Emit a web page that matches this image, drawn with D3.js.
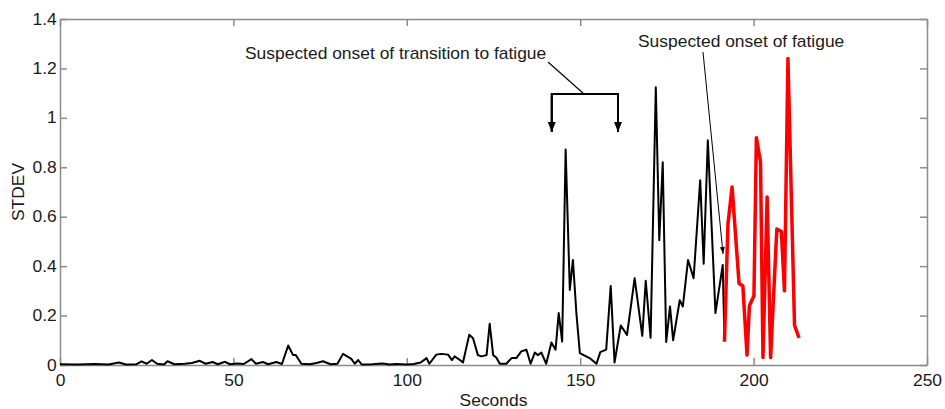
<!DOCTYPE html>
<html>
<head>
<meta charset="utf-8">
<title>STDEV over time</title>
<script src="https://d3js.org/d3.v7.min.js"></script>
<style>
  body, html { margin: 0; padding: 0; background: #fff; }
  svg { display: block; }
  .axis text { font-family: "Liberation Sans", Arial, sans-serif; font-size: 16px; fill: #1a1a1a; }
  .axis path, .axis line { stroke: #8c8c8c; stroke-width: 1.5; }
  .note, .label { font-family: "Liberation Sans", Arial, sans-serif; font-size: 16px; fill: #1a1a1a; }
</style>
</head>
<body>
<svg width="945" height="409"></svg>
<script>
// black trace (before fatigue) - vertices
const blackSec = [0, 5, 10, 14, 17, 19, 22, 23.5, 25, 26.5, 28, 30, 31, 33, 36, 38, 40.3, 42, 44, 45.5,
  47.6, 49, 51, 53, 55.2, 56.5, 58.5, 60, 62.4, 64, 65.8, 67.2, 68, 69.6, 72, 74, 75.8, 78, 80, 81.6,
  84, 85, 86, 87, 90, 93, 95, 97, 100, 102, 104, 105.7, 106.5, 108.5, 110, 111.9, 113, 113.8, 115.3, 116.2,
  118, 119.1, 120.5, 121.5, 123, 123.9, 124.9, 125.8, 126.8, 128.7, 130.2, 131.6, 133, 134.5, 135.7, 136.9,
  137.8, 138.8, 140.2, 141.7, 142.9, 143.8, 144.8, 145.8, 147, 147.9, 148.9, 149.9, 151, 152.7, 154.7, 155.8,
  157.5, 158.8, 159.9, 161.7, 163.5, 165.7, 167.9, 168.9, 170.3, 171.8, 172.8, 173.8, 174.8, 175.9, 176.8,
  178.7, 179.6, 181.1, 182.7, 184.6, 185.6, 186.8, 189, 191.1, 191.6];
const blackVal = [0.003, 0.002, 0.004, 0.002, 0.01, 0.002, 0.003, 0.015, 0.005, 0.02, 0.005, 0.002, 0.015, 0.003, 0.005, 0.008, 0.017, 0.005, 0.012, 0.003,
  0.013, 0.003, 0.006, 0.004, 0.024, 0.005, 0.012, 0.003, 0.012, 0.004, 0.079, 0.04, 0.04, 0.005, 0.003, 0.008, 0.015, 0.003, 0.005, 0.045,
  0.025, 0.005, 0.02, 0.002, 0.003, 0.006, 0.002, 0.004, 0.002, 0.004, 0.01, 0.028, 0.005, 0.042, 0.045, 0.042, 0.02, 0.035, 0.02, 0.01,
  0.122, 0.108, 0.04, 0.035, 0.04, 0.167, 0.04, 0.03, 0.005, 0.005, 0.028, 0.028, 0.055, 0.062, 0.005, 0.05,
  0.04, 0.05, 0.005, 0.091, 0.062, 0.21, 0.095, 0.872, 0.304, 0.425, 0.21, 0.048, 0.04, 0.028, 0.005, 0.052,
  0.062, 0.32, 0.01, 0.16, 0.122, 0.351, 0.118, 0.341, 0.11, 1.124, 0.505, 0.82, 0.093, 0.237, 0.1,
  0.262, 0.237, 0.425, 0.351, 0.748, 0.41, 0.909, 0.21, 0.405, 0.095];

// red trace (fatigue)
const redSec = [191.6, 192.6, 193.8, 195.8, 196.9, 198.1, 198.8, 200.1, 200.8, 202, 202.7, 203.9, 204.9, 206.7, 208, 208.9, 209.9, 211.8, 213.1];
const redVal = [0.095, 0.57, 0.72, 0.33, 0.32, 0.04, 0.24, 0.28, 0.92, 0.82, 0.03, 0.68, 0.03, 0.55, 0.54, 0.30, 1.24, 0.16, 0.11];

const xTicks = [0, 50, 100, 150, 200, 250];
const yTicks = [0, 0.2, 0.4, 0.6, 0.8, 1, 1.2, 1.4];

// annotations (data coords)
const bracketNote = "Suspected onset of transition to fatigue";
const bracketEnds = [141.8, 160.9];
const fatigueNote = "Suspected onset of fatigue";

const svg = d3.select("svg");
const x = d3.scaleLinear().domain([0, 250]).range([60, 927]);
const y = d3.scaleLinear().domain([0, 1.4]).range([365, 19]);

// text in the original runs a bit wider than Liberation Sans
const wide = "scale(1.09,1)";

const fmt = d => d === 0 ? "0" : (d === 1 ? "1" : d3.format(".1f")(d));

// box + inward ticks
svg.append("g").attr("class", "axis").attr("transform", "translate(0,365)")
  .call(d3.axisBottom(x).tickValues(xTicks).tickSizeInner(-7).tickSizeOuter(0).tickPadding(10))
  .selectAll("text").attr("transform", wide);
svg.append("g").attr("class", "axis").attr("transform", "translate(0,19)")
  .call(d3.axisTop(x).tickValues(xTicks).tickSizeInner(-7).tickSizeOuter(0).tickFormat(""));
svg.append("g").attr("class", "axis").attr("transform", "translate(60,0)")
  .call(d3.axisLeft(y).tickValues(yTicks).tickSizeInner(-7).tickSizeOuter(0).tickPadding(3).tickFormat(fmt))
  .selectAll("text").attr("transform", wide);
svg.append("g").attr("class", "axis").attr("transform", "translate(927,0)")
  .call(d3.axisRight(y).tickValues(yTicks).tickSizeInner(-7).tickSizeOuter(0).tickFormat(""));

const line = d3.line().x(d => x(d[0])).y(d => y(d[1]));

svg.append("path")
  .datum(d3.zip(blackSec, blackVal))
  .attr("d", line)
  .attr("fill", "none").attr("stroke", "#000").attr("stroke-width", 2).attr("stroke-linejoin", "round");

svg.append("path")
  .datum(d3.zip(redSec, redVal))
  .attr("d", line)
  .attr("fill", "none").attr("stroke", "#ff0000").attr("stroke-width", 3.5).attr("stroke-linejoin", "round");

// axis titles
svg.append("text").attr("class", "label")
  .attr("transform", `translate(${x(125)},406) ${wide}`).attr("text-anchor", "middle").text("Seconds");
svg.append("text").attr("class", "label")
  .attr("transform", `translate(24,${y(0.7)}) rotate(-90) ${wide}`).attr("text-anchor", "middle").text("STDEV");

// arrowheads
const defs = svg.append("defs");
defs.append("marker").attr("id", "head").attr("viewBox", "0 0 10 10")
  .attr("refX", 10).attr("refY", 5).attr("markerWidth", 10).attr("markerHeight", 10)
  .attr("markerUnits", "userSpaceOnUse").attr("orient", "auto")
  .append("path").attr("d", "M0,1 L10,5 L0,9 Z").attr("fill", "#000");
defs.append("marker").attr("id", "thin").attr("viewBox", "0 0 10 10")
  .attr("refX", 10).attr("refY", 5).attr("markerWidth", 10).attr("markerHeight", 7)
  .attr("markerUnits", "userSpaceOnUse").attr("orient", "auto")
  .append("path").attr("d", "M0,1.5 L10,5 L0,8.5 Z").attr("fill", "#000");

// bracket annotation
svg.append("text").attr("class", "note").attr("transform", `translate(245,59) ${wide}`).text(bracketNote);
const bx0 = x(bracketEnds[0]), bx1 = x(bracketEnds[1]), by = 94, byTip = 132;
svg.append("line").attr("x1", 548).attr("y1", 62).attr("x2", 584).attr("y2", by)
  .attr("stroke", "#000").attr("stroke-width", 1.2);
svg.append("path").attr("d", `M${bx0},${byTip} V${by} H${bx1} V${byTip}`)
  .attr("fill", "none").attr("stroke", "#000").attr("stroke-width", 2);
[bx0, bx1].forEach(bx => {
  svg.append("line").attr("x1", bx).attr("y1", by).attr("x2", bx).attr("y2", byTip)
    .attr("stroke", "#000").attr("stroke-width", 2).attr("marker-end", "url(#head)");
});

// fatigue annotation
svg.append("text").attr("class", "note").attr("transform", `translate(638,47) ${wide}`).text(fatigueNote);
svg.append("line").attr("x1", 703).attr("y1", 52).attr("x2", x(191.2)).attr("y2", 254)
  .attr("stroke", "#000").attr("stroke-width", 1).attr("marker-end", "url(#thin)");
</script>
</body>
</html>
